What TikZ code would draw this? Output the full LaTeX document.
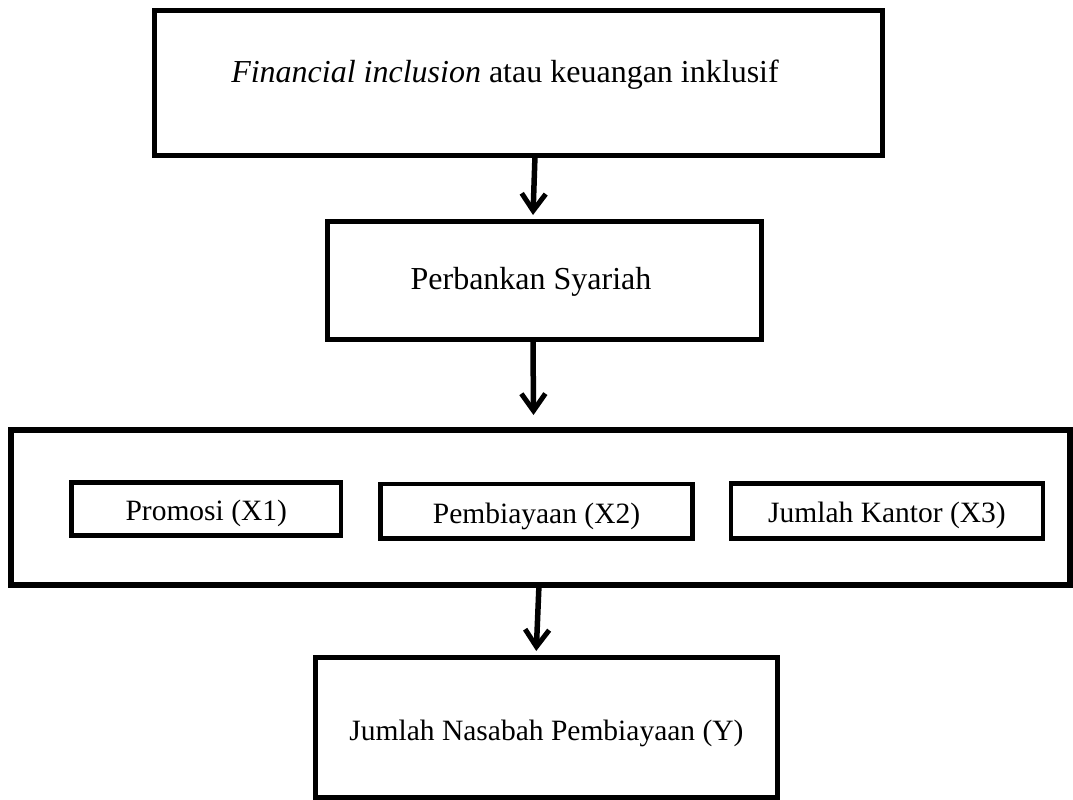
\documentclass[tikz,border=0pt]{standalone}
\usepackage{fontspec}
\setmainfont{Liberation Serif}
\usetikzlibrary{arrows.meta}
\begin{document}
\begin{tikzpicture}[x=1pt,y=-1pt,
  box/.style={draw=black,line width=5pt,rectangle,inner sep=0pt,outer sep=0pt,fill=white},
  ibox/.style={box,line width=4.5pt},
  lbl/.style={anchor=base,inner sep=0pt,font=\fontsize{29.5}{35}\selectfont},
  biglbl/.style={lbl,font=\fontsize{32}{38}\selectfont},
  arr/.style={line width=5.5pt,-{Straight Barb[length=17pt,width=24pt,line width=5pt]}}]
\useasboundingbox (0,0) rectangle (1073,800);
\fill[white] (0,0) rectangle (1073,800);
\node[box,minimum width=727.5pt,minimum height=145pt] (top) at (518.25,83) {};
\node[box,minimum width=434pt,minimum height=118.5pt] (bank) at (544.5,280.25) {};
\node[box,line width=6pt,minimum width=1059pt,minimum height=154.5pt] (grp) at (540.5,507.25) {};
\node[ibox,minimum width=269.5pt,minimum height=53pt] (x1) at (206.25,509) {};
\node[ibox,minimum width=312pt,minimum height=54.5pt] (x2) at (536.5,511.25) {};
\node[ibox,minimum width=312pt,minimum height=55pt] (x3) at (887,511) {};
\node[box,minimum width=461.5pt,minimum height=139.5pt] (y) at (546.25,727.25) {};
\node[biglbl] (ttop) at (505,82) {\textit{Financial inclusion} atau keuangan inklusif};
\node[biglbl] (tbank) at (531,289) {Perbankan Syariah};
\node[lbl] (tx1) at (206.25,520) {Promosi (X1)};
\node[lbl] (tx2) at (536.5,523) {Pembiayaan (X2)};
\node[lbl] (tx3) at (887,522) {Jumlah Kantor (X3)};
\node[lbl] (ty) at (546.5,740) {Jumlah Nasabah Pembiayaan (Y)};
\coordinate (a1e) at ([xshift=-11.5pt,yshift=6pt]bank.north);
\coordinate (a2e) at ([xshift=-7pt,yshift=15pt]grp.north);
\coordinate (a3e) at ([xshift=-10pt,yshift=6.5pt]y.north);
\draw[arr] ([xshift=16.75pt]top.south) -- (a1e);
\draw[arr] ([xshift=-11.5pt]bank.south) -- (a2e);
\draw[arr] ([xshift=-1.5pt]grp.south) -- (a3e);
\end{tikzpicture}
\end{document}
